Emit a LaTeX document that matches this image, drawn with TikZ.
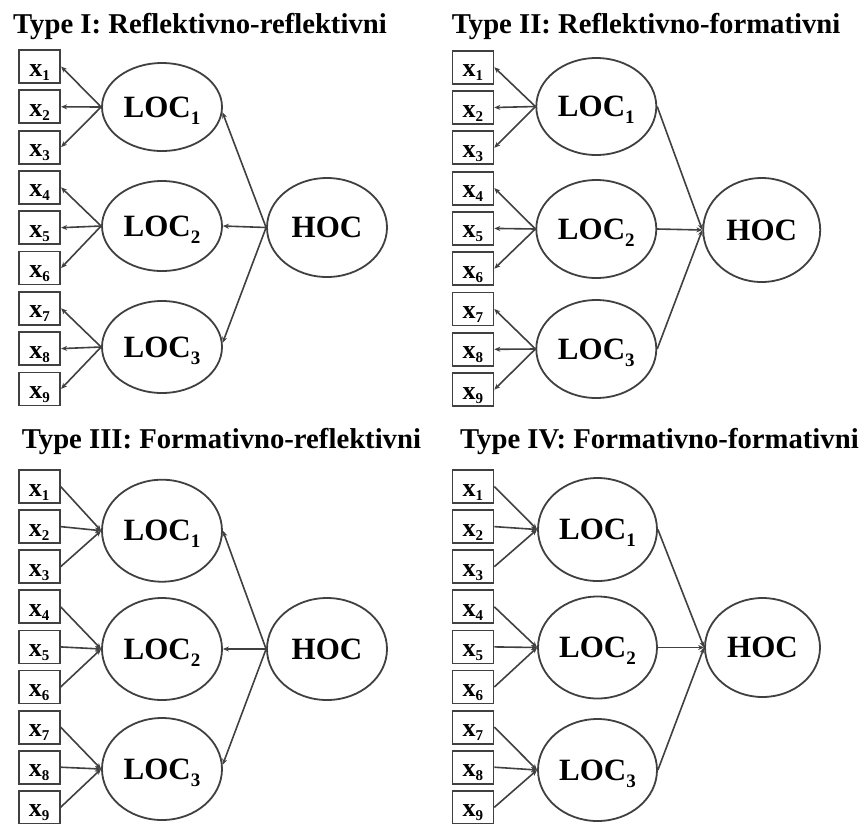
\documentclass[tikz,border=0pt]{standalone}
\usepackage{fontspec}
\setmainfont{Liberation Serif}
\usetikzlibrary{arrows.meta,shapes.geometric}
\newcommand\xsub[1]{\raisebox{-4pt}{\fontsize{15}{15}\selectfont #1}}
\newcommand\locsub[1]{\raisebox{-7pt}{\fontsize{19}{19}\selectfont #1}}
\tikzset{
  ln/.style={draw=black!75, line width=1.8pt},
  xbox/.style={ln, rectangle, minimum width=41pt, minimum height=33pt, inner sep=0pt,
    text height=19pt, text depth=0pt, font=\bfseries\fontsize{26}{26}\selectfont},
  lv/.style={ln, ellipse, inner sep=0pt, text height=20.5pt, text depth=0pt,
    font=\bfseries\fontsize{31}{31}\selectfont},
  arr/.style={draw=black!75, line width=1.6pt, -{Stealth[length=6pt,width=5pt]}},
  ttl/.style={anchor=base west, inner sep=0pt, font=\bfseries\fontsize{28.7}{30}\selectfont}
}
\begin{document}
\begin{tikzpicture}[x=1pt,y=-1pt]
\useasboundingbox[fill=white] (0,0) rectangle (867,823);

% ---------- Panel I ----------
\node[ttl] (t1) at (13,33.3) {Type I: Reflektivno-reflektivni};
\foreach \i in {1,...,9}{
  \node[xbox] (a\i) at (39.7,{66.5+40.3*(\i-1)}) {x\xsub{\i}};
}
\node[lv, minimum width=120pt, minimum height=88pt] (aL1) at (162,107) {LOC\locsub{1}};
\node[lv, minimum width=120pt, minimum height=90pt] (aL2) at (162,226) {LOC\locsub{2}};
\node[lv, minimum width=120pt, minimum height=92pt] (aL3) at (162,347) {LOC\locsub{3}};
\node[lv, minimum width=120pt, minimum height=99pt] (aH) at (327,227.5) {HOC};
\foreach \i in {1,2,3}{\draw[arr] (aL1.west) -- (a\i.east);}
\foreach \i in {4,5,6}{\draw[arr] (aL2.west) -- (a\i.east);}
\foreach \i in {7,8,9}{\draw[arr] (aL3.west) -- (a\i.east);}
\draw[arr] (aH.west) -- (aL1.-5);
\draw[arr] (aH.west) -- (aL2.east);
\draw[arr] (aH.west) -- (aL3.4);

% ---------- Panel II ----------
\node[ttl] (t2) at (451.7,33) {Type II: Reflektivno-formativni};
\foreach \i in {1,...,9}{
  \node[xbox] (b\i) at (472.9,{67.2+40.3*(\i-1)}) {x\xsub{\i}};
}
\node[lv, minimum width=120pt, minimum height=97pt] (bL1) at (596.3,106.5) {LOC\locsub{1}};
\node[lv, minimum width=120pt, minimum height=98pt] (bL2) at (596.3,229) {LOC\locsub{2}};
\node[lv, minimum width=120pt, minimum height=98pt] (bL3) at (596.3,349) {LOC\locsub{3}};
\node[lv, minimum width=117pt, minimum height=104pt] (bH) at (761.7,230) {HOC};
\foreach \i in {1,2,3}{\draw[arr] (bL1.west) -- (b\i.east);}
\foreach \i in {4,5,6}{\draw[arr] (bL2.west) -- (b\i.east);}
\foreach \i in {7,8,9}{\draw[arr] (bL3.west) -- (b\i.east);}
\draw[arr] (bL1.east) -- (bH.west);
\draw[arr] (bL2.east) -- (bH.west);
\draw[arr] (bL3.east) -- (bH.west);

% ---------- Panel III ----------
\node[ttl] (t3) at (21.7,448) {Type III: Formativno-reflektivni};
\foreach \i in {1,...,9}{
  \node[xbox] (c\i) at (39.2,{486.5+40.1*(\i-1)}) {x\xsub{\i}};
}
\node[lv, minimum width=120pt, minimum height=102pt] (cL1) at (162,530.7) {LOC\locsub{1}};
\node[lv, minimum width=120pt, minimum height=102pt] (cL2) at (162,649) {LOC\locsub{2}};
\node[lv, minimum width=120pt, minimum height=102pt] (cL3) at (162,769) {LOC\locsub{3}};
\node[lv, minimum width=120pt, minimum height=102pt] (cH) at (327,649) {HOC};
\foreach \i in {1,2,3}{\draw[arr] (c\i.east) -- (cL1.west);}
\foreach \i in {4,5,6}{\draw[arr] (c\i.east) -- (cL2.west);}
\foreach \i in {7,8,9}{\draw[arr] (c\i.east) -- (cL3.west);}
\draw[arr] (cH.west) -- (cL1.east);
\draw[arr] (cH.west) -- (cL2.east);
\draw[arr] (cH.west) -- (cL3.4);

% ---------- Panel IV ----------
\node[ttl] (t4) at (460,448) {Type IV: Formativno-formativni};
\foreach \i in {1,...,9}{
  \node[xbox] (d\i) at (472.9,{486.5+40.1*(\i-1)}) {x\xsub{\i}};
}
\node[lv, minimum width=119pt, minimum height=103pt] (dL1) at (597.5,529.5) {LOC\locsub{1}};
\node[lv, minimum width=119pt, minimum height=102pt] (dL2) at (597.5,647.5) {LOC\locsub{2}};
\node[lv, minimum width=119pt, minimum height=102pt] (dL3) at (597.5,770) {LOC\locsub{3}};
\node[lv, minimum width=115pt, minimum height=99pt] (dH) at (762.5,647.5) {HOC};
\foreach \i in {1,2,3}{\draw[arr] (d\i.east) -- (dL1.west);}
\foreach \i in {4,5,6}{\draw[arr] (d\i.east) -- (dL2.west);}
\foreach \i in {7,8,9}{\draw[arr] (d\i.east) -- (dL3.west);}
\draw[arr] (dL1.east) -- (dH.west);
\draw[arr] (dL2.east) -- (dH.west);
\draw[arr] (dL3.east) -- (dH.west);
\end{tikzpicture}
\end{document}
